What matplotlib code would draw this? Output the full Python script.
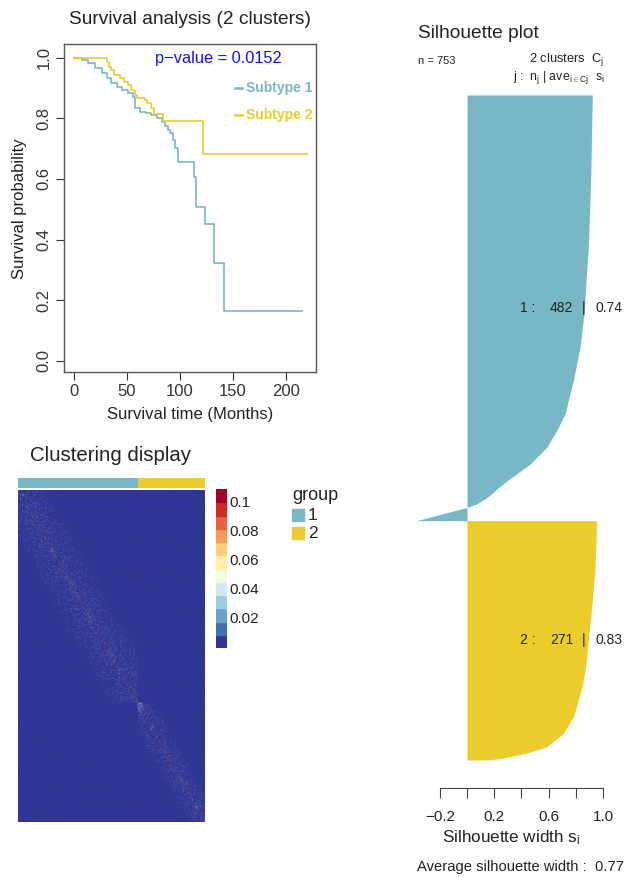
import numpy as np
import matplotlib
matplotlib.use("Agg")
import matplotlib.pyplot as plt
from matplotlib.colors import ListedColormap

plt.rcParams['font.family'] = ['Liberation Sans', 'DejaVu Sans']
plt.rcParams['mathtext.fontset'] = 'custom'
plt.rcParams['mathtext.rm'] = 'Liberation Sans'
plt.rcParams['mathtext.it'] = 'Liberation Sans'

# ---------------- data ----------------
TEAL = "#78B7C5"
YELLOW = "#EBCC2A"

# Kaplan-Meier steps (months, survival probability)
time_sub1 = [0, 7, 13, 20, 26, 31, 35, 40, 45, 51, 56, 57, 62, 68, 73, 78, 83, 86, 89, 91, 93, 95, 98, 113, 115, 124, 132, 142, 215]
surv_sub1 = [1.0, 0.992, 0.981, 0.965, 0.948, 0.932, 0.915, 0.904, 0.893, 0.882, 0.871, 0.833, 0.822, 0.816, 0.811, 0.80, 0.789, 0.776, 0.761, 0.75, 0.728, 0.701, 0.657, 0.607, 0.508, 0.451, 0.323, 0.164, 0.164]
time_sub2 = [0, 31, 33, 35, 38, 43, 47, 51, 54, 57, 59, 67, 69, 73, 75, 84, 122, 220]
surv_sub2 = [1.0, 0.987, 0.97, 0.959, 0.943, 0.932, 0.921, 0.91, 0.893, 0.877, 0.866, 0.86, 0.849, 0.833, 0.814, 0.792, 0.681, 0.681]
p_value_text = "p\u2212value = 0.0152"
legend_labels = ["Subtype 1", "Subtype 2"]

# cluster sizes
cluster_sizes = [482, 271]
cluster_avg = [0.74, 0.83]
avg_width = 0.77

# silhouette profile knots (rank within cluster, silhouette width)
sil1_rank = [0, 96, 172, 210, 248, 285, 323, 361, 380, 399, 418, 437, 456, 463, 467, 474, 482]
sil1_value = [0.921, 0.909, 0.892, 0.875, 0.86, 0.831, 0.782, 0.721, 0.659, 0.586, 0.463, 0.292, 0.145, 0.071, 0.0, -0.174, -0.37]
sil2_rank = [0, 52, 84, 135, 165, 184, 203, 222, 241, 256, 263, 269, 271]
sil2_value = [0.953, 0.941, 0.925, 0.892, 0.873, 0.851, 0.819, 0.782, 0.708, 0.586, 0.439, 0.26, 0.15]

# consensus heatmap structure (diagonal, sparse speckled band near the diagonal)
diag_value = 0.1
band_value = 0.03
band_halfwidth = [130, 80]
band_density = 0.07
core_block = 20
colorbar_ticks = [0.02, 0.04, 0.06, 0.08, 0.1]
color_range = (0.0, 0.11)

# ---------------- figure ----------------
W, H = 624, 877
fig = plt.figure(figsize=(W / 100, H / 100), dpi=100)


def box(x0, y0, x1, y1):
    return [x0 / W, 1 - y1 / H, (x1 - x0) / W, (y1 - y0) / H]


def ftext(x, y, s, **kw):
    kw.setdefault('va', 'center')
    kw.setdefault('color', '#222222')
    fig.text(x / W, 1 - y / H, s, **kw)


# ---- survival panel ----
ax = fig.add_axes(box(64, 44, 316, 372))
ax.step(time_sub1, surv_sub1, where='post', color=TEAL, lw=1.2)
ax.step(time_sub2, surv_sub2, where='post', color=YELLOW, lw=1.2)
ax.set_xlim(-9.7, 228.6)
ax.set_ylim(-0.037, 1.045)
ax.set_xticks([0, 50, 100, 150, 200])
ax.set_yticks([0.0, 0.2, 0.4, 0.6, 0.8, 1.0])
ax.set_yticklabels(["0.0", "0.2", "0.4", "0.6", "0.8", "1.0"], rotation=90, va='center')
ax.tick_params(labelsize=12, length=6, width=0.8, colors='#333333', labelcolor='#333333', pad=3)
for s in ax.spines.values():
    s.set_color('#555555')
    s.set_linewidth(1.0)
ftext(155, 58, p_value_text, color='#1010FF', fontsize=11.8)
# legend: short dash + coloured text
for i, (lab, col) in enumerate(zip(legend_labels, [TEAL, YELLOW])):
    yy = 88 + i * 27
    fig.add_artist(plt.Line2D([235 / W, 242 / W], [1 - yy / H, 1 - yy / H], color=col, lw=1.8))
    ftext(246, yy, lab, color=col, fontsize=10, fontweight='bold')
ftext(190, 20, "Survival analysis (2 clusters)", fontsize=13.8, ha='center')
ftext(190, 414, "Survival time (Months)", fontsize=12, ha='center')
ftext(20, 209, "Survival probability", fontsize=12, ha='center', rotation=90)

# ---- clustering heatmap ----
n = sum(cluster_sizes)
I, J = np.meshgrid(np.arange(n), np.arange(n), indexing='ij')
A, B = np.minimum(I, J).astype(np.int64), np.maximum(I, J).astype(np.int64)
texture = (((A * 73856093) ^ (B * 19349663) ^ (A * B * 83492791)) % 1000) / 1000.0
cluster_id = np.repeat(np.arange(len(cluster_sizes)), cluster_sizes)
same = cluster_id[I] == cluster_id[J]
hw = np.array(band_halfwidth)[cluster_id[I]]
closeness = np.clip(1 - np.abs(I - J) / hw, 0, None)
M = np.where(same & (texture < band_density * closeness), band_value, 0.0)
c2 = cluster_sizes[0]
core = (I >= c2) & (I < c2 + core_block) & (J >= c2) & (J < c2 + core_block) & (texture < 0.3)
M[core] = band_value
M[np.arange(n), np.arange(n)] = diag_value

ncolors = 12
cmap = ListedColormap(plt.get_cmap('RdYlBu_r')(np.linspace(0, 1, ncolors)))

axh = fig.add_axes(box(18, 490, 205, 822))
axh.imshow(M, cmap=cmap, vmin=color_range[0], vmax=color_range[1], aspect='auto',
           interpolation='antialiased', interpolation_stage='rgba')
axh.set_axis_off()

groups = np.repeat([0, 1], cluster_sizes)[None, :]
axa = fig.add_axes(box(18, 478, 205, 488))
axa.imshow(groups, cmap=ListedColormap([TEAL, YELLOW]), aspect='auto', interpolation='nearest')
axa.set_axis_off()

ftext(111, 455, "Clustering display", fontsize=14.7, ha='center')

axc = fig.add_axes(box(216, 489, 227, 648))
levels = np.linspace(color_range[0], color_range[1], ncolors + 1)
for k in range(ncolors):
    axc.axhspan(levels[k], levels[k + 1], color=cmap(k))
axc.set_ylim(*color_range)
axc.set_xlim(0, 1)
axc.set_axis_off()
for t in colorbar_ticks:
    ypx = 648 - (t - color_range[0]) / (color_range[1] - color_range[0]) * (648 - 489)
    ftext(229, ypx, f"{t:g}", fontsize=11)

ftext(292, 496, "group", fontsize=13)
for i, (lab, col) in enumerate(zip(["1", "2"], [TEAL, YELLOW])):
    yy = 515 + i * 18
    fig.add_artist(plt.Rectangle((292 / W, 1 - (yy + 6) / H), 12 / W, 12 / H, color=col))
    ftext(308, yy, lab, fontsize=12.5)

# ---- silhouette panel ----
bars_top, bars_bottom, axis_y = 95, 760, 788
rank_bottom = n + (axis_y - bars_bottom) * n / (bars_bottom - bars_top)
axs = fig.add_axes(box(410, bars_top, 624, axis_y))
offset = 0
for ranks, vals, col, size in [(sil1_rank, sil1_value, TEAL, cluster_sizes[0]),
                               (sil2_rank, sil2_value, YELLOW, cluster_sizes[1])]:
    r = np.array(ranks) + offset
    axs.fill_betweenx(r, 0, vals, color=col, lw=0)
    offset += size
axs.set_ylim(rank_bottom, 0)
axs.set_xlim(-0.419, 1.154)
for s in ['top', 'left', 'right']:
    axs.spines[s].set_visible(False)
axs.spines['bottom'].set_bounds(-0.2, 1.0)
axs.spines['bottom'].set_color('#444444')
axs.set_yticks([])
xt = [-0.2, 0.0, 0.2, 0.4, 0.6, 0.8, 1.0]
axs.set_xticks(xt)
axs.set_xticklabels(["\u22120.2", "", "0.2", "", "0.6", "", "1.0"])
axs.tick_params(axis='x', labelsize=11, length=7, width=0.8, colors='#444444', labelcolor='#222222', pad=9)
axs.patch.set_alpha(0)

ftext(418, 33, "Silhouette plot", fontsize=13.8)
ftext(418, 61, "n = 753", fontsize=8)
ftext(604, 60, r"2 clusters  $C_\mathrm{j}$", fontsize=9.3, ha='right')
ftext(605, 78, r"j :  $n_\mathrm{j}$ | ave$_{\mathrm{i}\in\mathrm{Cj}}$  $s_\mathrm{i}$", fontsize=8.9, ha='right')
mid1 = bars_top + (bars_bottom - bars_top) * cluster_sizes[0] / 2 / n
mid2 = bars_top + (bars_bottom - bars_top) * (cluster_sizes[0] + cluster_sizes[1] / 2) / n
for j, mid in enumerate([mid1, mid2]):
    ftext(520, mid, f"{j + 1} :", fontsize=10)
    ftext(550, mid, f"{cluster_sizes[j]}", fontsize=10)
    ftext(584, mid, "|", fontsize=10, ha='center')
    ftext(595, mid, f"{cluster_avg[j]:.2f}", fontsize=10)
ftext(511, 838, r"Silhouette width $s_\mathrm{i}$", fontsize=12.3, ha='center')
ftext(417, 867, f"Average silhouette width :  {avg_width:.2f}", fontsize=10.6)

fig.savefig("out.png", dpi=100)
